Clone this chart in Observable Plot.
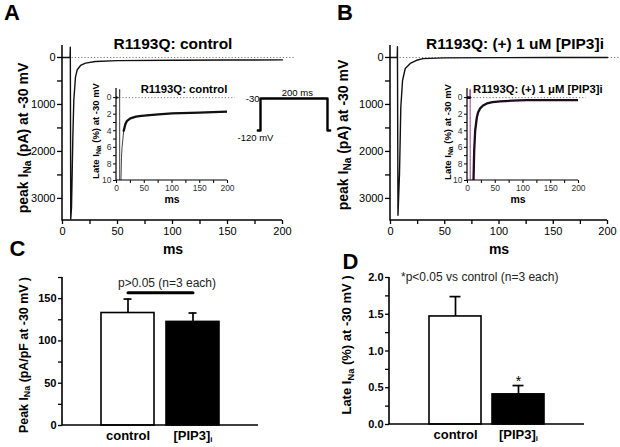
<!DOCTYPE html>
<html><head><meta charset="utf-8">
<script src="https://cdn.jsdelivr.net/npm/d3@7"></script>
<script src="https://cdn.jsdelivr.net/npm/@observablehq/plot@0.6"></script>
<style>
body{margin:0;background:#fff;}
#fig{position:relative;width:620px;height:447px;overflow:hidden;font-family:"Liberation Sans",Arial,Helvetica,sans-serif;color:#000;background:#fff;}
#fig svg{position:absolute;left:0;top:0;}
.lbl{position:absolute;white-space:nowrap;line-height:1;}
.sub{font-size:0.72em;vertical-align:-0.3em;}
</style></head><body><div id="fig"></div>
<script>
// ---------------- data ----------------
const traceA_ms = [0, 6.9, 7.1, 7.5, 8.2, 8.8, 9.4, 10.3, 11.8, 13.4, 16.4, 20.9, 30, 50, 100, 150, 200];
const traceA_pA = [0, 0, -220, 3440, 3190, 2470, 1700, 900, 420, 260, 170, 120, 85, 68, 60, 55, 52];
const traceB_ms = [0, 6.2, 6.4, 6.9, 8.3, 8.9, 9.5, 11.1, 13.6, 18.2, 24, 30, 50, 100, 150, 200];
const traceB_pA = [0, 0, -230, 3360, 2470, 1770, 1060, 490, 234, 128, 60, 25, 8, 3, 2, 2];
const insetA_ms = [0, 5.5, 5.7, 6.2, 7, 8, 9, 10, 13, 16, 19, 25, 35, 45, 70, 100, 150, 200];
const insetA_pct = [0, 0, -1, 100, 30, 10, 7.2, 6, 4, 3.2, 2.8, 2.5, 2.3, 2.2, 2.05, 1.9, 1.8, 1.7];
const insetB_ms = [0, 4.5, 4.8, 5.2, 8, 10.8, 12, 13.8, 16.8, 19, 22.8, 28, 35, 45, 59, 80, 107, 150, 200];
const insetB_pct = [0, 0, -1, 100, 30, 10, 6.5, 4, 2.4, 1.8, 1.3, 0.95, 0.7, 0.55, 0.45, 0.37, 0.3, 0.3, 0.3];
const protocol_ms = [-8, 0, 0, 200, 200, 208];
const protocol_mV = [-120, -120, -30, -30, -120, -120];
const groups = ["control", "[PIP3]i"];
const peakDensity = [133, 122.5];
const peakSEM = [16.5, 10.5];
const lateCurrent = [1.47, 0.41];
const lateSEM = [0.27, 0.12];
const mainYTicks = [0, 500, 1000, 1500, 2000, 2500, 3000];
const timeTicks = [0, 25, 50, 75, 100, 125, 150, 175, 200];
const insetYTicks = [0, 1, 2, 3, 4, 5, 6, 7, 8, 9, 10];
const peakTicks = [0, 25, 50, 75, 100, 125, 150, 175];
const lateTicks = [0, 0.25, 0.5, 0.75, 1, 1.25, 1.5, 1.75, 2];

// ---------------- helpers ----------------
const fig = document.getElementById("fig");
const W = 620, H = 447;
const FONT = '"Liberation Sans", Arial, Helvetica, sans-serif';
const pts = (xs, ys) => xs.map((x, i) => ({x, y: ys[i]}));
function frame(l, t, r, b) {
  return {width: W, height: H, marginLeft: l, marginTop: t, marginRight: W - r, marginBottom: H - b,
    style: {background: "transparent", fontFamily: FONT, fontSize: "11px", overflow: "visible"}};
}
function add(svg) { fig.appendChild(svg); return svg; }
function axisL(svg, l, t, r, b, w) {
  d3.select(svg).append("path").attr("d", `M${l},${t}V${b}H${r}`)
    .attr("fill", "none").attr("stroke", "#000").attr("stroke-width", w);
}
function label(html, x, y, o = {}) {
  const d = document.createElement("div");
  d.className = "lbl";
  d.innerHTML = html;
  d.style.left = x + "px"; d.style.top = y + "px";
  d.style.fontSize = (o.size || 12) + "px";
  d.style.fontWeight = o.weight || "normal";
  d.style.color = o.color || "#000";
  const tx = o.anchor === "start" ? "0" : o.anchor === "end" ? "-100%" : "-50%";
  d.style.transform = `translate(${tx},-50%)` + (o.rotate ? " rotate(-90deg)" : "");
  fig.appendChild(d);
}
const INa = 'I<span class="sub">Na</span>';

// ---------------- main traces (A, B) ----------------
function mainTrace(l, r, data) {
  const svg = add(Plot.plot({
    ...frame(l, 45, r, 220),
    x: {domain: [0, 200], label: null},
    y: {domain: [-255, 3470], reverse: true, label: null},
    marks: [
      Plot.ruleY([0], {x1: 0, x2: 212, stroke: "#777", strokeDasharray: "1.2,2"}),
      Plot.axisY({ticks: mainYTicks, tickFormat: d => d % 1000 ? "" : String(d), tickSize: 5, tickPadding: 2, fontSize: 11, label: null, strokeWidth: 1.3}),
      Plot.axisX({ticks: timeTicks, tickFormat: d => d % 50 ? "" : String(d), tickSize: 4, tickPadding: 3, fontSize: 11, label: null, strokeWidth: 1.3}),
      Plot.line(data, {x: "x", y: "y", strokeWidth: 1.4, stroke: "#111"})
    ]
  }));
  axisL(svg, l, 45, r, 220, 1.5);
}
mainTrace(62, 282, pts(traceA_ms, traceA_pA));
mainTrace(390, 607, pts(traceB_ms, traceB_pA));

// ---------------- insets ----------------
function inset(l, r, data, early, late) {
  const svg = add(Plot.plot({
    ...frame(l, 88, r, 180),
    x: {domain: [0, 200], label: null},
    y: {domain: [-1.1, 10], reverse: true, label: null},
    marks: [
      Plot.ruleY([0], {x1: 0, x2: 214, stroke: "#777", strokeDasharray: "1.2,2"}),
      Plot.axisY({ticks: insetYTicks, tickFormat: d => d % 2 ? "" : String(d), tickSize: 3, tickPadding: 2, fontSize: 8.5, fill: "#333", label: null}),
      Plot.axisX({ticks: timeTicks, tickFormat: d => d % 50 ? "" : String(d), tickSize: 3, tickPadding: 1, fontSize: 8.5, fill: "#333", label: null}),
      Plot.line(data, {x: "x", y: "y", strokeWidth: 1, stroke: early, clip: true}),
      Plot.line(data, {filter: d => d.x <= 4.6, x: "x", y: "y", strokeWidth: 2.6, stroke: late, clip: true}),
      Plot.line(data, {filter: d => d.x >= 10.5, x: "x", y: "y", strokeWidth: 2.3, stroke: late, clip: true})
    ]
  }));
  axisL(svg, l, 88, r, 180, 1.2);
}
inset(116, 227, pts(insetA_ms, insetA_pct), "#444", "#111");
inset(467, 578, pts(insetB_ms, insetB_pct), "#9a3f9a", "#1c0c1c");

// ---------------- voltage protocol ----------------
add(Plot.plot({
  ...frame(260, 98, 327, 130),
  x: {domain: [0, 200], axis: null},
  y: {domain: [-120, -30], axis: null},
  marks: [
    Plot.line(pts(protocol_ms, protocol_mV), {x: "x", y: "y", strokeWidth: 2.4}),
    Plot.text(["-30"], {x: 0, y: -30, textAnchor: "end", dx: -1, fontSize: 9.5}),
    Plot.text(["200 ms"], {x: 110, y: -30, dy: -6, fontSize: 9.5}),
    Plot.text(["-120 mV"], {x: 0, y: -120, dx: -5, dy: 7, fontSize: 9.5})
  ]
}));

// ---------------- bar charts ----------------
function bars(f, domainY, ticks, fmt, pIn, pOut, means, sems, capInset, star, sig) {
  const data = groups.map((g, i) => ({g, m: means[i], s: sems[i]}));
  const svg = add(Plot.plot({
    ...frame(...f),
    x: {domain: groups, type: "band", paddingInner: pIn, paddingOuter: pOut, label: null},
    y: {domain: domainY, label: null},
    marks: [
      Plot.barY(data, {x: "g", y: "m", fill: d => d.g === "control" ? "white" : "black", stroke: "black", strokeWidth: 1.6}),
      Plot.ruleX(data, {x: "g", y1: "m", y2: d => d.m + d.s, strokeWidth: 1.7}),
      Plot.tickY(data, {x: "g", y: d => d.m + d.s, insetLeft: capInset, insetRight: capInset, strokeWidth: 1.7}),
      star ? Plot.text(data.filter(d => d.g !== "control"), {x: "g", y: d => d.m + d.s, text: () => "*", dy: -4, fontSize: 14}) : null,
      sig != null ? Plot.line(groups, {x: d => d, y: sig, strokeWidth: 3}) : null,
      Plot.axisY({ticks, tickFormat: fmt, tickSize: 4, tickPadding: 2, fontSize: 11, fontWeight: "bold", label: null, strokeWidth: 1.3}),
      Plot.axisX({tickSize: 0, tickPadding: 5, fontSize: 13, fontWeight: "bold", label: null})
    ]
  }));
  axisL(svg, f[0], f[1], f[2], f[3], 1.6);
  d3.select(svg).selectAll("text").filter(function () { return this.textContent === "[PIP3]i"; })
    .each(function () {
      const t = d3.select(this);
      t.text("[PIP3]");
      t.append("tspan").attr("font-size", "0.6em").attr("dy", "0.35em").text("i");
    });
  return svg;
}
bars([62, 277, 258, 425], [0, 175], peakTicks, d => d % 50 ? "" : String(d), 0.19, 0.59, peakDensity, peakSEM, 22.5, false, 157);
bars([389, 277, 584, 424], [0, 2], lateTicks, d => (d * 2) % 1 ? "" : d3.format(".1f")(d), 0.17, 0.61, lateCurrent, lateSEM, 20.5, true, null);

// ---------------- text labels ----------------
label("A", 12, 13, {size: 22, weight: "bold"});
label("B", 345, 13, {size: 22, weight: "bold"});
label("C", 17.5, 248.5, {size: 22, weight: "bold"});
label("D", 350.5, 261.5, {size: 22, weight: "bold"});
label("R1193Q: control", 173, 44, {size: 15.5, weight: "bold"});
label("R1193Q: (+) 1 uM [PIP3]i", 515, 44, {size: 15.5, weight: "bold"});
label(`peak ${INa} (pA) at -30 mV`, 25, 138, {size: 14, weight: "bold", rotate: true});
label(`peak ${INa} (pA) at -30 mV`, 345, 135, {size: 14, weight: "bold", rotate: true});
label("ms", 173, 249, {size: 14, weight: "bold"});
label("ms", 499, 249, {size: 14, weight: "bold"});
label("R1193Q: control", 184, 90, {size: 11.3, weight: "bold"});
label("R1193Q: (+) 1 μM [PIP3]i", 473, 90, {size: 11.3, weight: "bold", anchor: "start"});
label(`Late ${INa} (%) at -30 mV`, 97, 131, {size: 9.5, weight: "bold", rotate: true});
label(`Late ${INa} (%) at -30 mV`, 449, 132, {size: 9.5, weight: "bold", rotate: true});
label("ms", 172, 199, {size: 10.5, weight: "bold"});
label("ms", 518, 199, {size: 10.5, weight: "bold"});
label(`Peak ${INa} (pA/pF at -30 mV )`, 25, 355, {size: 12.4, weight: "bold", rotate: true});
label(`Late ${INa} (%) at -30 mV )`, 348, 345, {size: 13, weight: "bold", rotate: true});
label("p&gt;0.05 (n=3 each)", 167, 283, {size: 12, color: "#222"});
label("*p&lt;0.05 vs control (n=3 each)", 401, 277, {size: 12, color: "#222", anchor: "start"});
</script></body></html>
